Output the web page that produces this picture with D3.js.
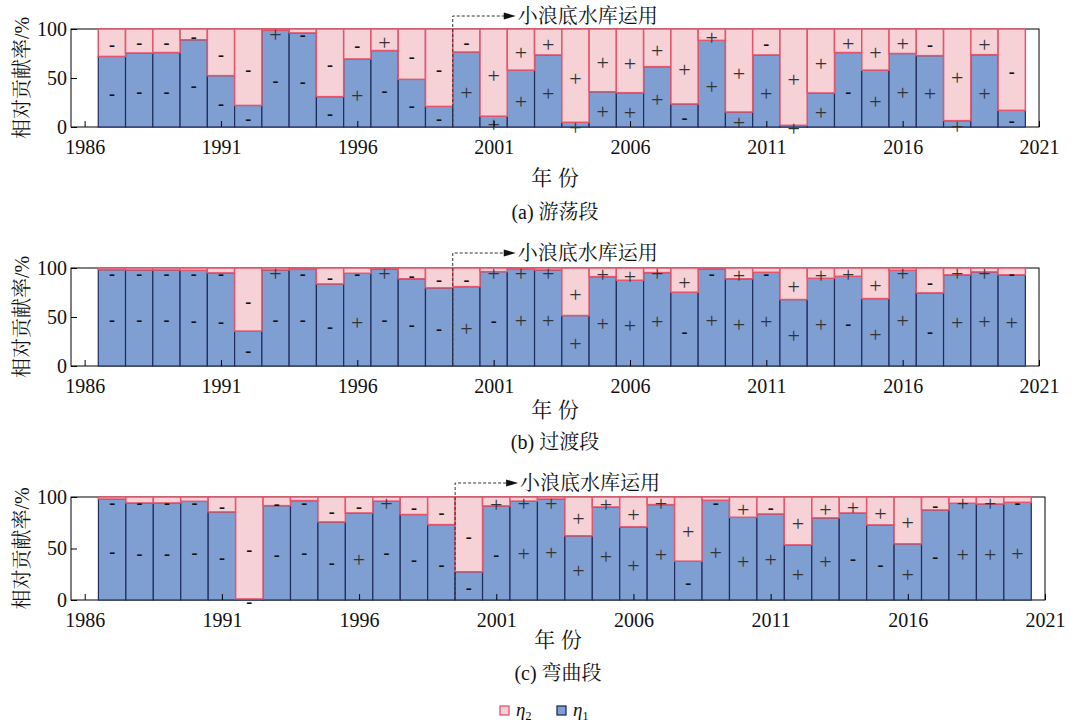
<!DOCTYPE html>
<html>
<head>
<meta charset="utf-8">
<script src="https://cdn.jsdelivr.net/npm/d3@7"></script>
<style>
  body { margin: 0; background: #fff; }
  text { font-family: "Liberation Serif", "Times New Roman", serif; }
  .cjk { font-family: "Noto Serif CJK SC", "Noto Sans CJK SC", sans-serif; }
</style>
</head>
<body>
<svg id="chart"></svg>
<script>
// years on the x axis
const years = [1987, 1988, 1989, 1990, 1991, 1992, 1993, 1994, 1995, 1996, 1997, 1998, 1999, 2000,
  2001, 2002, 2003, 2004, 2005, 2006, 2007, 2008, 2009, 2010, 2011, 2012, 2013, 2014, 2015, 2016,
  2017, 2018, 2019, 2020];
const xTicks = [1986, 1991, 1996, 2001, 2006, 2011, 2016, 2021];
const yTicks = [0, 50, 100];

// eta1 share (%), eta2 = 100 - eta1
const etaA = [72, 75.5, 76, 89, 52.4, 22, 98.6, 96, 31, 69.4, 78, 48.6, 21, 76.5, 11, 58, 73.5, 4.8,
  36, 35, 61.6, 23.5, 88.4, 15.3, 73.5, 1.7, 34.7, 76, 58, 75, 72.8, 6.5, 73.8, 17];
const etaB = [98.3, 98, 98, 97.6, 95, 35.6, 98, 98.6, 83.7, 94.6, 99, 89, 79.7, 81, 96.3, 98.6, 98,
  51.5, 91.2, 87.5, 95.3, 75.3, 99, 89, 95.6, 67.8, 89.5, 91.5, 68.8, 97.6, 74.6, 93, 96, 93];
const etaC = [98, 94.2, 94.2, 95.8, 85.5, 1, 91.6, 96.5, 75.8, 84.5, 96, 83, 73.2, 27.4, 91.3, 96, 98,
  62.3, 90.3, 71, 92.6, 37.7, 96.8, 80.3, 83.5, 53.5, 79.7, 84.5, 72.9, 54.5, 87.4, 93.9, 93.2, 94.8];

// signs of eta1 / eta2 per year
const signA1 = "---------+---++++++++-+++++-+++++-".split("");
const signA2 = "------+---+---++++++++++-+++++-++-".split("");
const signB1 = "---------+---+-++++++-+++++-++-+++".split("");
const signB2 = "------+---+---++++++++-+-+++++-++-".split("");
const signC1 = "---------+-----++++++-+++++--+-+++".split("");
const signC2 = "----------+---++++++++-+-+++++-++-".split("");

const captions = ["(a) 游荡段", "(b) 过渡段", "(c) 弯曲段"];

const W = 1077, H = 723;
const svg = d3.select("#chart").attr("width", W).attr("height", H);

const panels = [
  { eta: etaA, s1: signA1, s2: signA2, cap: captions[0], left: 71, right: 1039, top: 29, bottom: 127, annY: 16, xlabY: 178, capY: 212 },
  { eta: etaB, s1: signB1, s2: signB2, cap: captions[1], left: 71, right: 1039, top: 268, bottom: 366, annY: 253, xlabY: 410, capY: 442 },
  { eta: etaC, s1: signC1, s2: signC2, cap: captions[2], left: 71, right: 1045, top: 497, bottom: 600, annY: 483, xlabY: 640, capY: 673 }
];

const blueFill = "#7f9fd2", blueLine = "#1f2d5c";
const pinkFill = "#f6d1d6", pinkLine = "#e2566e";

panels.forEach(p => {
  const x = d3.scaleLinear().domain([1985.5, 2021]).range([p.left, p.right]);
  const y = d3.scaleLinear().domain([0, 100]).range([p.bottom, p.top]);
  const bw = x(1) - x(0);
  const rows = years.map((yr, i) => ({ year: yr, e1: p.eta[i], s1: p.s1[i], s2: p.s2[i] }));
  const g = svg.append("g");

  g.append("rect")
    .attr("x", p.left).attr("y", p.top)
    .attr("width", p.right - p.left).attr("height", p.bottom - p.top)
    .attr("fill", "none").attr("stroke", "#000").attr("stroke-width", 1);

  g.selectAll("rect.e1").data(rows).join("rect")
    .attr("class", "e1")
    .attr("x", d => x(d.year - 0.5)).attr("width", bw)
    .attr("y", d => y(d.e1)).attr("height", d => y(0) - y(d.e1))
    .attr("fill", blueFill).attr("stroke", blueLine).attr("stroke-width", 1.2);

  g.selectAll("rect.e2").data(rows).join("rect")
    .attr("class", "e2")
    .attr("x", d => x(d.year - 0.5)).attr("width", bw)
    .attr("y", y(100)).attr("height", d => y(d.e1) - y(100))
    .attr("fill", pinkFill).attr("stroke", pinkLine).attr("stroke-width", 1.5);

  // sign labels
  const signText = (sel) => sel
    .attr("text-anchor", "middle")
    .attr("dy", d => d.s === "+" ? "0.32em" : "0.3em")
    .attr("font-size", d => d.s === "+" ? 22 : 18)
    .attr("font-weight", d => d.s === "+" ? "normal" : "bold")
    .attr("fill", d => d.s === "+" ? "#333" : "#111")
    .text(d => d.s);

  g.selectAll("text.s1").data(rows.map(d => ({ year: d.year, v: d.e1 / 2, s: d.s1 }))).join("text")
    .attr("class", "s1")
    .attr("x", d => x(d.year)).attr("y", d => y(d.v) + 3)
    .call(signText);

  g.selectAll("text.s2").data(rows.map(d => ({ year: d.year, v: Math.min((d.e1 + 100) / 2, 96.5), s: d.s2 }))).join("text")
    .attr("class", "s2")
    .attr("x", d => x(d.year)).attr("y", d => y(d.v) + 3)
    .call(signText);

  // axes, ticks pointing inward
  const yAxis = d3.axisLeft(y).tickValues(yTicks).tickSize(-6).tickPadding(4);
  const gy = g.append("g").attr("transform", `translate(${p.left},0)`).call(yAxis);
  const xAxis = d3.axisBottom(x).tickValues(xTicks).tickFormat(d3.format("d")).tickSize(-6).tickPadding(13);
  const gx = g.append("g").attr("transform", `translate(0,${p.bottom})`).call(xAxis);
  [gx, gy].forEach(a => {
    a.select(".domain").remove();
    a.selectAll("line").attr("stroke", "#000");
    a.selectAll("text").attr("font-size", 20).attr("fill", "#111")
      .attr("font-family", "Liberation Serif, serif");
  });

  // y title
  const yc = (p.top + p.bottom) / 2;
  const yt = g.append("text")
    .attr("transform", `translate(29,${yc}) rotate(-90)`)
    .attr("text-anchor", "middle").attr("font-size", 20).attr("fill", "#111");
  yt.append("tspan").attr("class", "cjk").text("相对贡献率");
  yt.append("tspan").text("/%");

  // x title and caption
  const xc = (p.left + p.right) / 2;
  g.append("text").attr("class", "cjk")
    .attr("x", xc).attr("y", p.xlabY).attr("dy", "0.35em")
    .attr("text-anchor", "middle").attr("font-size", 21).attr("fill", "#111")
    .text("年 份");
  const cap = g.append("text")
    .attr("x", xc).attr("y", p.capY).attr("dy", "0.35em")
    .attr("text-anchor", "middle").attr("font-size", 20).attr("fill", "#111");
  const parts = p.cap.split(" ");
  cap.append("tspan").text(parts[0] + " ");
  cap.append("tspan").attr("class", "cjk").text(parts[1]);

  // Xiaolangdi annotation
  const xd = x(1999.5);
  g.append("path")
    .attr("d", `M${xd},${p.bottom}V${p.annY}H${xd + 52}`)
    .attr("fill", "none").attr("stroke", "#333").attr("stroke-width", 1)
    .attr("stroke-dasharray", "3,2");
  g.append("path")
    .attr("d", `M${xd + 51},${p.annY - 3.5}L${xd + 63},${p.annY}L${xd + 51},${p.annY + 3.5}Z`)
    .attr("fill", "#111");
  g.append("text").attr("class", "cjk")
    .attr("x", xd + 65).attr("y", p.annY).attr("dy", "0.36em")
    .attr("font-size", 20).attr("fill", "#111")
    .text("小浪底水库运用");
});

// legend
const legend = svg.append("g").attr("transform", "translate(500,706)");
const legItems = [
  { fill: pinkFill, line: pinkLine, sub: "2", dx: 0 },
  { fill: blueFill, line: blueLine, sub: "1", dx: 57 }
];
legItems.forEach(d => {
  legend.append("rect").attr("x", d.dx).attr("y", 0).attr("width", 9).attr("height", 9)
    .attr("fill", d.fill).attr("stroke", d.line).attr("stroke-width", 1.3);
  const t = legend.append("text").attr("x", d.dx + 16).attr("y", 10)
    .attr("font-size", 19).attr("fill", "#111");
  t.append("tspan").attr("font-style", "italic").text("η");
  t.append("tspan").attr("font-size", 12).attr("dy", 4).text(d.sub);
});
</script>
</body>
</html>
